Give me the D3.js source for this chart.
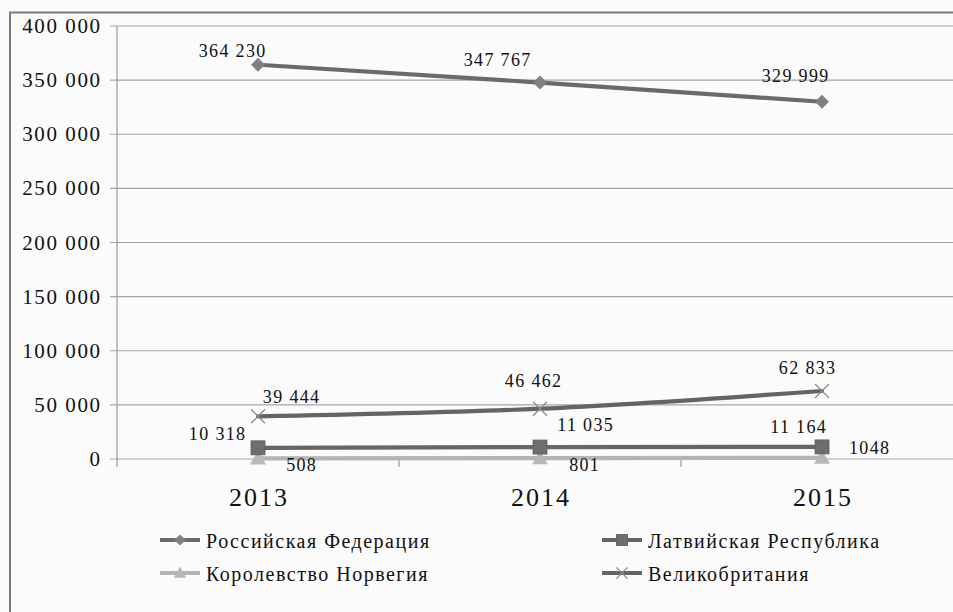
<!DOCTYPE html>
<html><head><meta charset="utf-8">
<script src="https://cdn.jsdelivr.net/npm/d3@7"></script>
</head><body style="margin:0">
<script>
const categories = ["2013", "2014", "2015"];
const seriesNames = ["Российская Федерация", "Латвийская Республика", "Королевство Норвегия", "Великобритания"];
const russia = [364230, 347767, 329999];
const latvia = [10318, 11035, 11164];
const norway = [508, 801, 1048];
const uk = [39444, 46462, 62833];
const yTicks = [0, 50000, 100000, 150000, 200000, 250000, 300000, 350000, 400000];

const W = 953, H = 612;
const svg = d3.select("body").append("svg").attr("width", W).attr("height", H).style("display", "block");
svg.append("rect").attr("width", W).attr("height", H).attr("fill", "#fbfbfb");
svg.append("rect").attr("x", 10).attr("y", 12.5).attr("width", W + 20).attr("height", H + 20)
  .attr("fill", "none").attr("stroke", "#7a7a7a").attr("stroke-width", 2);

const pLeft = 117, pTop = 26, pBottom = 459, plotW = 846;
const x = d3.scaleBand().domain(categories).range([pLeft, pLeft + plotW]);
const y = d3.scaleLinear().domain([0, 400000]).range([pBottom, pTop]);
const fmt = v => d3.format(",")(v).replace(/,/g, " ");
const fmtLabel = v => v >= 10000 ? fmt(v) : String(v);
const LS = 0.075;
function stext(g, tx, ty, str, size, anchor) {
  const ls = size * LS;
  let ax = tx;
  if (anchor === "end") ax = tx + ls;
  else if (anchor !== "start") ax = tx + ls / 2;
  return g.append("text").attr("x", ax).attr("y", ty)
    .attr("font-size", size)
    .style("font-family", '"Tinos"')
    .attr("text-anchor", anchor || "middle")
    .style("letter-spacing", ls + "px")
    .attr("fill", "#111").text(str);
}

const grid = svg.append("g");
yTicks.forEach(t => {
  grid.append("line").attr("x1", pLeft - 7).attr("x2", pLeft + plotW).attr("y1", y(t)).attr("y2", y(t))
    .attr("stroke", "#a6a6a6").attr("stroke-width", 1.2);
  stext(svg, 100, y(t) + 7, fmt(t), 21, "end");
});
grid.append("line").attr("x1", pLeft).attr("x2", pLeft).attr("y1", pTop).attr("y2", pBottom + 8)
  .attr("stroke", "#9a9a9a").attr("stroke-width", 1.2);
categories.forEach(c => {
  const xb = x(c) + x.bandwidth();
  grid.append("line").attr("x1", xb).attr("x2", xb).attr("y1", pBottom).attr("y2", pBottom + 8)
    .attr("stroke", "#9a9a9a").attr("stroke-width", 1.2);
  stext(svg, x(c) + x.bandwidth() / 2, 506, c, 26, "middle");
});
const cx = c => x(c) + x.bandwidth() / 2;

const series = [
  {name: seriesNames[0], vals: russia, line: "#6a6a6a", mark: "diamond", mcol: "#808080",
   lab: [[-26, -8], [-43, -17], [-27, -20]]},
  {name: seriesNames[1], vals: latvia, line: "#666666", mark: "square", mcol: "#6e6e6e",
   lab: [[-41, -8], [45, -16], [-24, -14]]},
  {name: seriesNames[2], vals: norway, line: "#b4b4b4", mark: "triangle", mcol: "#b8b8b8",
   lab: [[43, 13], [44, 13], [47, -4]]},
  {name: seriesNames[3], vals: uk, line: "#646464", mark: "x", mcol: "#8c8c8c",
   lab: [[33, -13], [-7, -22], [-15, -17]]}
];

function marker(g, type, px, py, col, s) {
  s = s || 1;
  if (type === "diamond") g.append("path").attr("d", `M${px},${py-7*s}L${px+7*s},${py}L${px},${py+7*s}L${px-7*s},${py}Z`).attr("fill", col);
  else if (type === "square") g.append("rect").attr("x", px-7*s).attr("y", py-7*s).attr("width", 14*s).attr("height", 14*s).attr("fill", col).attr("stroke", "#5e5e5e").attr("stroke-width", 0.8);
  else if (type === "triangle") g.append("path").attr("d", `M${px},${py-8*s}L${px+8*s},${py+6*s}L${px-8*s},${py+6*s}Z`).attr("fill", col);
  else if (type === "x") g.append("path").attr("d", `M${px-7*s},${py-7*s}L${px+7*s},${py+7*s}M${px+7*s},${py-7*s}L${px-7*s},${py+7*s}`).attr("stroke", col).attr("stroke-width", 1.3).attr("fill", "none");
}

const lineGen = d3.line().x((d, i) => cx(categories[i])).y(d => y(d)).curve(d3.curveMonotoneX);
[2, 1, 3, 0].forEach(k => {
  const s = series[k];
  svg.append("path").datum(s.vals).attr("d", lineGen).attr("fill", "none")
    .attr("stroke", s.line).attr("stroke-width", 4.2).attr("stroke-linecap", "round");
  s.vals.forEach((v, i) => marker(svg, s.mark, cx(categories[i]), y(v), s.mcol));
});
series.forEach(s => {
  s.vals.forEach((v, i) => {
    stext(svg, cx(categories[i]) + s.lab[i][0], y(v) + s.lab[i][1], fmtLabel(v), 18, "middle");
  });
});

const legendPos = [[160, 540], [602, 540], [160, 573], [602, 573]];
series.forEach((s, k) => {
  const [lx, ly] = legendPos[k];
  svg.append("line").attr("x1", lx).attr("x2", lx + 40).attr("y1", ly).attr("y2", ly)
    .attr("stroke", s.line).attr("stroke-width", 4);
  marker(svg, s.mark, lx + 20, ly, s.mcol, 0.8);
  stext(svg, lx + 46, ly + 8, s.name, 20, "start");
});
</script>
</body></html>
